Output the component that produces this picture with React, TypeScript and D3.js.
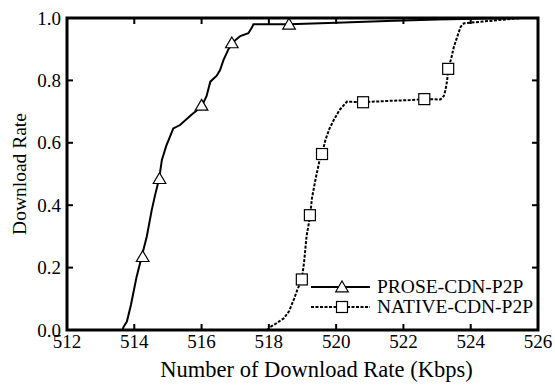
import React from "react";
import * as d3 from "d3";

const xTicks = [512, 514, 516, 518, 520, 522, 524, 526];
const yTicks = [0.0, 0.2, 0.4, 0.6, 0.8, 1.0];

const proseX = [513.65, 513.68, 513.78, 513.9, 513.97, 514.07, 514.22, 514.37, 514.52, 514.62, 514.74, 514.82, 514.95, 515.16, 515.36, 515.7, 516.0, 516.15, 516.26, 516.45, 516.55, 516.65, 516.8, 516.95, 517.15, 517.39, 517.5, 517.54, 518.6, 520, 521.5, 523, 524.5, 525.5];
const proseY = [0, 0.01, 0.027, 0.08, 0.118, 0.171, 0.235, 0.299, 0.385, 0.433, 0.486, 0.545, 0.59, 0.646, 0.657, 0.69, 0.716, 0.75, 0.796, 0.815, 0.833, 0.865, 0.9, 0.924, 0.942, 0.951, 0.97, 0.98, 0.98, 0.985, 0.99, 0.995, 0.998, 1.0];
const proseMarkX = [514.25, 514.75, 516.0, 516.9, 518.6];
const proseMarkY = [0.235, 0.485, 0.72, 0.92, 0.98];

const nativeX = [517.95, 518.04, 518.2, 518.44, 518.6, 518.75, 518.85, 518.98, 519.05, 519.12, 519.23, 519.28, 519.4, 519.5, 519.58, 519.68, 519.8, 519.93, 520.1, 520.32, 520.8, 521.5, 522.2, 522.62, 523.1, 523.2, 523.25, 523.3, 523.33, 523.42, 523.5, 523.6, 523.7, 523.8, 524.5, 525.5];
const nativeY = [0, 0.01, 0.02, 0.037, 0.06, 0.1, 0.13, 0.162, 0.22, 0.3, 0.368, 0.422, 0.49, 0.54, 0.564, 0.609, 0.645, 0.673, 0.705, 0.732, 0.73, 0.734, 0.737, 0.74, 0.739, 0.75, 0.769, 0.8, 0.837, 0.87, 0.908, 0.94, 0.972, 0.983, 0.99, 1.0];
const nativeMarkX = [518.98, 519.22, 519.58, 520.8, 522.62, 523.33];
const nativeMarkY = [0.162, 0.368, 0.564, 0.73, 0.74, 0.837];

const seriesNames = ["PROSE-CDN-P2P", "NATIVE-CDN-P2P"];

const W = 555, H = 385;
const L = 67, R = 538, T = 18, B = 330;
const FONT = "'Liberation Serif', 'Times New Roman', serif";

export default function App() {
  const x = d3.scaleLinear().domain([512, 526]).range([L, R]);
  const y = d3.scaleLinear().domain([0, 1]).range([B, T]);
  const line = d3.line<[number, number]>().x(d => x(d[0])).y(d => y(d[1]));
  const prose = line(proseX.map((v, i) => [v, proseY[i]]) as [number, number][]) || "";
  const native = line(nativeX.map((v, i) => [v, nativeY[i]]) as [number, number][]) || "";
  const tri = (cx: number, cy: number) => {
    const s = 6;
    return `M${cx},${cy - s}L${cx + s * 1.05},${cy + s * 0.8}L${cx - s * 1.05},${cy + s * 0.8}Z`;
  };
  const sq = 5.5;
  const tickLen = 6;
  return (
    <svg width={W} height={H} style={{ position: "absolute", left: 0, top: 0, background: "#fff" }}>
      <rect x={0} y={0} width={W} height={H} fill="#fff" />
      {xTicks.slice(1, -1).map(t => (
        <g key={"xt" + t}>
          <line x1={x(t)} x2={x(t)} y1={B} y2={B - tickLen} stroke="#000" strokeWidth={2} />
          <line x1={x(t)} x2={x(t)} y1={T} y2={T + tickLen} stroke="#000" strokeWidth={2} />
        </g>
      ))}
      {yTicks.slice(1, -1).map(t => (
        <g key={"yt" + t}>
          <line x1={L} x2={L + tickLen} y1={y(t)} y2={y(t)} stroke="#000" strokeWidth={2} />
          <line x1={R} x2={R - tickLen} y1={y(t)} y2={y(t)} stroke="#000" strokeWidth={2} />
        </g>
      ))}
      <path d={prose} fill="none" stroke="#000" strokeWidth={2} />
      <path d={native} fill="none" stroke="#000" strokeWidth={2} strokeDasharray="3,1.5" />
      {proseMarkX.map((v, i) => (
        <path key={"pm" + i} d={tri(x(v), y(proseMarkY[i]))} fill="#fff" stroke="#000" strokeWidth={1.2} />
      ))}
      {nativeMarkX.map((v, i) => (
        <rect key={"nm" + i} x={x(v) - sq} y={y(nativeMarkY[i]) - sq} width={sq * 2} height={sq * 2} fill="#fff" stroke="#000" strokeWidth={1.2} />
      ))}
      <rect x={L} y={T} width={R - L} height={B - T} fill="none" stroke="#000" strokeWidth={3} />
      {xTicks.map(t => (
        <text key={"xl" + t} x={x(t)} y={348} textAnchor="middle" fontFamily={FONT} fontSize={19} fill="#000">{t}</text>
      ))}
      {yTicks.map(t => (
        <text key={"yl" + t} x={61} y={y(t) + 6.5} textAnchor="end" fontFamily={FONT} fontSize={19} fill="#000">{t.toFixed(1)}</text>
      ))}
      <text x={316.5} y={377} textAnchor="middle" fontFamily={FONT} fontSize={22.5} fill="#000">Number of Download Rate (Kbps)</text>
      <text transform={`translate(26,${(T + B) / 2}) rotate(-90)`} textAnchor="middle" fontFamily={FONT} fontSize={19.5} fill="#000">Download Rate</text>
      <line x1={311} x2={370} y1={287} y2={287} stroke="#000" strokeWidth={2} />
      <path d={tri(342, 287)} fill="#fff" stroke="#000" strokeWidth={1.2} />
      <text x={377} y={293} fontFamily={FONT} fontSize={19.5} fill="#000">{seriesNames[0]}</text>
      <line x1={311} x2={370} y1={307} y2={307} stroke="#000" strokeWidth={2} strokeDasharray="3,1.5" />
      <rect x={342 - sq} y={307 - sq} width={sq * 2} height={sq * 2} fill="#fff" stroke="#000" strokeWidth={1.2} />
      <text x={377} y={313} fontFamily={FONT} fontSize={19.5} fill="#000">{seriesNames[1]}</text>
    </svg>
  );
}
